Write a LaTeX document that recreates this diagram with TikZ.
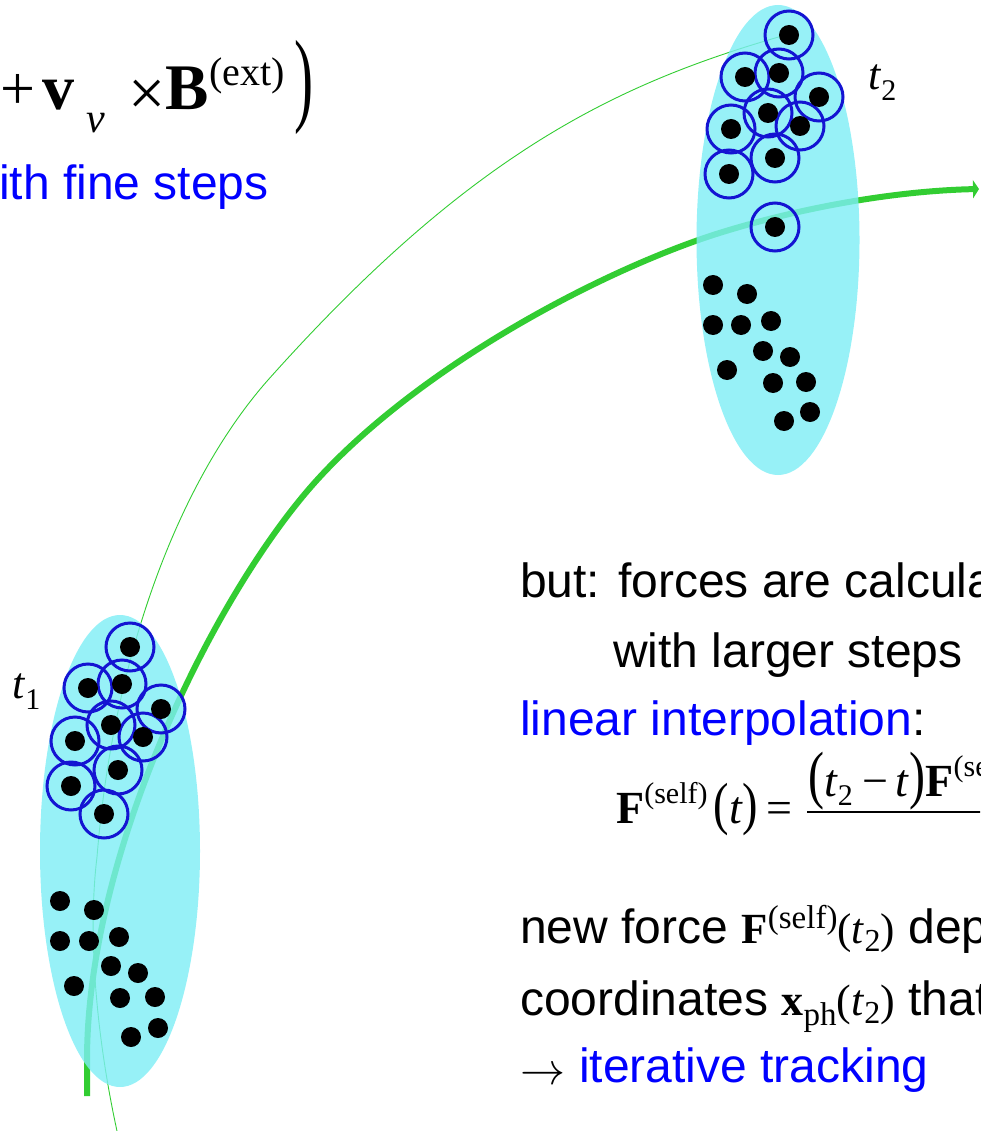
\documentclass[tikz,border=0pt]{standalone}
\usepackage{fontspec}
\setmainfont{Liberation Sans}
\newfontfamily\tms{Liberation Serif}
\usetikzlibrary{arrows.meta,shapes.geometric}
\definecolor{trk}{RGB}{50,205,50}
\definecolor{bunchc}{RGB}{125,238,245}
\definecolor{ringblue}{RGB}{20,20,210}
\definecolor{txtblue}{RGB}{0,0,255}
\newcommand{\fs}[1]{\fontsize{#1}{#1}\selectfont}
\begin{document}
\begin{tikzpicture}[x=1pt,y=-1pt,
  txt/.style={inner sep=0pt, anchor=base west, font=\fs{48}},
  mth/.style={inner sep=0pt, anchor=base west},
  dot/.style={circle, fill=black, inner sep=0pt, minimum size=20pt},
  rng/.style={circle, draw=ringblue, line width=3pt, inner sep=0pt, minimum size=48pt},
  bunch/.style={ellipse, fill=bunchc, fill opacity=0.8, inner sep=0pt},
  thicktrack/.style={draw=trk, line width=6pt},
  thintrack/.style={draw=trk, line width=0.9pt}]
\useasboundingbox (0,0) rectangle (980,1131);
\clip (0,0) rectangle (980,1131);

% track end points
\coordinate (thinA) at (117,1131);
\coordinate (thinB) at (97,857);
\coordinate (thinC) at (268,380);
\coordinate (thinD) at (782,36);
\coordinate (thkA) at (87,1096);
\coordinate (thkB) at (87,1060);
\coordinate (thkC) at (317,480);
\coordinate (thkD) at (710,236);
\coordinate (thkE) at (979,189);

% tracks
\draw[thintrack] (thinA) .. controls (95,1030) and (88,930) .. (thinB)
  .. controls (113,657) and (178,482) .. (thinC)
  .. controls (468,156) and (612,85) .. (thinD);
\draw[thicktrack, -{Triangle[length=6pt,width=18pt]}] (thkA) -- (thkB)
  .. controls (87,850) and (217,590) .. (thkC)
  .. controls (417,370) and (590,276) .. (thkD)
  .. controls (790,210) and (889,191) .. (thkE);

% bunches
\node[bunch, minimum width=160pt, minimum height=472pt] (b1) at (120,851) {};
\node[bunch, minimum width=163pt, minimum height=470pt] (b2) at (778,240) {};

% t1 cluster
\foreach \n/\x/\y in {a/130/647, b/88/688, c/122/684, d/161/709, e/111/725, f/75/741, g/143/737, h/118/770, i/71/786, j/104/814}{
  \node[rng] (r1\n) at (\x,\y) {};
}
\foreach \n/\x/\y in {a/130/647, b/88/688, c/122/684, d/161/709, e/111/725, f/75/741, g/143/737, h/118/770, i/71/786, j/104/814,
  k/60/901, l/94/910, m/60/941, n/89/941, o/119/937, p/111/966, q/138/973, r/74/986, s/120/998, t/155/997, u/131/1037, v/158/1028}{
  \node[dot] (d1\n) at (\x,\y) {};
}
% t2 cluster
\foreach \n/\x/\y in {a/789/35, b/745/77, c/779/73, d/819/97, e/768/113, f/731/129, g/800/126, h/775/158, i/729/174, j/775/227}{
  \node[rng] (r2\n) at (\x,\y) {};
}
\foreach \n/\x/\y in {a/789/35, b/745/77, c/779/73, d/819/97, e/768/113, f/731/129, g/800/126, h/775/158, i/729/174, j/775/227,
  k/713/285, l/747/294, m/713/325, n/741/325, o/771/321, p/763/351, q/790/357, r/727/370, s/773/383, t/806/382, u/784/421, v/810/412}{
  \node[dot] (d2\n) at (\x,\y) {};
}

% labels t1, t2
\node[mth] (t1) at (12,698) {\tms\fs{44}\textit{t}\raisebox{-11pt}{\fs{30}1}};
\node[mth] (t2) at (868,90) {\tms\fs{44}\textit{t}\raisebox{-11pt}{\fs{30}2}};

% top formula
\node[mth] (plus) at (0,110) {\tms\fs{62}+};
\node[mth] (vv) at (42,110) {\tms\fs{64}\textbf{v}};
\node[mth] (nu) at (86,133) {\tms\fs{42}\textit{ν}};
\node[mth] (cross) at (128,116) {\tms\fs{66}×};
\node[mth] (BB) at (165,110) {\tms\fs{65}\textbf{B}};
\node[mth] (ext) at (209,86) {\tms\fs{40}(ext)};
\node[mth] (paren) at (294,113) {\scalebox{0.55}[1]{\tms\fs{104})}};
\node[txt, text=txtblue] (fine) at (-1,200) {ith fine steps};

% right text block
\node[txt] (but) at (520,597) {but: forces are calcula};
\node[txt] (larger) at (613,667) {with larger steps};
\node[txt] (lin) at (520,735) {\textcolor{txtblue}{linear interpolation}:};
\node[mth] (lhs) at (616,823) {\tms\fs{46}\textbf{F}\raisebox{20pt}{\fs{30}(self)}\hspace{6pt}\scalebox{0.8}[1]{\fs{58}(}\textit{t}\scalebox{0.8}[1]{\fs{58})}\hspace{8pt}=};
\draw[line width=2pt] (807,812) -- (985,812);
\node[mth] (num) at (808,796) {\tms\fs{46}\scalebox{0.75}[1]{\fs{64}(}\textit{t}\raisebox{-9pt}{\fs{30}2}\hspace{10pt}−\hspace{7pt}\textit{t}\scalebox{0.75}[1]{\fs{64})}\textbf{F}\raisebox{20pt}{\fs{30}(self)}};
\node[txt] (newf) at (520,943) {new force {\tms\fs{43}\textbf{F}\raisebox{15pt}{\fs{33}(self)}(\textit{t}\raisebox{-8pt}{\fs{32}2})} dep};
\node[txt] (coord) at (520,1015) {coordinates {\tms\fs{44}\textbf{x}\raisebox{-10pt}{\fs{33}ph}(\textit{t}\raisebox{-8pt}{\fs{32}2})} that};
\node[txt] (iter) at (520,1082) {\raisebox{-2pt}{\scalebox{4.5}{\fs{10}$\rightarrow$}}\hspace{14pt}\textcolor{txtblue}{iterative tracking}};
\end{tikzpicture}
\end{document}
